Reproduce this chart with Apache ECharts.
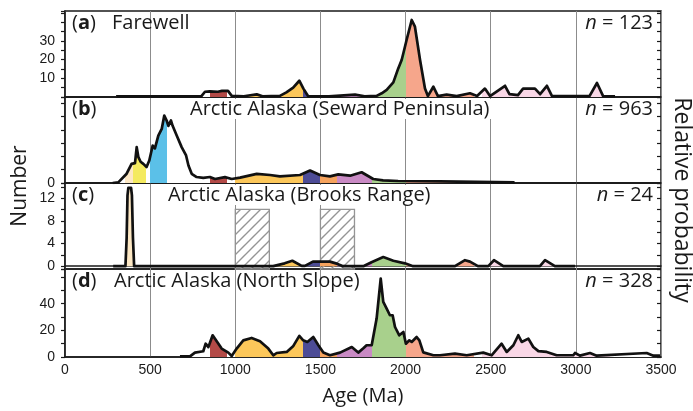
<!DOCTYPE html>
<html>
<head>
<meta charset="utf-8">
<script src="https://cdn.jsdelivr.net/npm/echarts@6/dist/echarts.min.js"></script>
<style>
  html, body { margin: 0; background: #fff; }
  #chart { width: 693px; height: 411px; }
</style>
</head>
<body>
<div id="chart"></div>
<script>
// panel text
const panelLetters = ['a', 'b', 'c', 'd']
const panelNames = ['Farewell', 'Arctic Alaska (Seward Peninsula)', 'Arctic Alaska (Brooks Range)', 'Arctic Alaska (North Slope)']
const sampleCounts = [123, 963, 24, 328]

// age axis (Ma)
const ageMin = 0
const ageMax = 3500
const ageStep = 500

// y tick labels that are printed, per panel
const yLabelsA = [10, 20, 30]
const yLabelsB = [0]
const yLabelsC = [0, 4, 8, 12]
const yLabelsD = [0, 20, 40]

// [age, number]
const farewell = [
  [300, 0.3], [800, 0.3], [822, 2.8], [850, 3], [898, 2.8], [922, 3.3], [957, 3.3], [979, 0.6],
  [1050, 0.4], [1126, 1.4], [1160, 0.4], [1262, 0.6], [1300, 2.5], [1340, 5], [1376, 8.7], [1400, 4.5],
  [1427, 0.5], [1550, 0.3], [1703, 1.3], [1760, 0.4], [1830, 0.6], [1860, 2], [1889, 3.8], [1928, 7.8],
  [1957, 15.3], [1977, 19.8], [1987, 23.4], [2006, 30.5], [2036, 41.2], [2055, 37.6], [2085, 19.8],
  [2114, 4.6], [2131, 0.5], [2163, 5.5], [2190, 0.5], [2241, 1.3], [2300, 0.5], [2378, 2], [2420, 0.5],
  [2466, 4.5], [2496, 0.5], [2584, 6], [2610, 1.5], [2660, 1], [2690, 4.5], [2760, 4.5], [2790, 1.5],
  [2830, 6], [2860, 0.5], [3080, 0.5], [3124, 7.5], [3160, 0.5], [3230, 0.3]
]
const seward = [
  [280, 0], [313, 0.05], [362, 0.7], [391, 1.44], [411, 1.5], [421, 2.7], [431, 1.94], [444, 1.6],
  [460, 1.44], [479, 1.2], [495, 1.69], [515, 2.82], [528, 2.6], [548, 3.57], [568, 4.07], [583, 5.07],
  [597, 4.7], [607, 4.3], [622, 4.7], [632, 4.3], [656, 3.57], [685, 2.7], [711, 2.07], [725, 1.32],
  [744, 0.69], [773, 0.45], [812, 0.38], [851, 0.45], [881, 0.3], [939, 0.44], [979, 0.3], [1028, 0.4],
  [1126, 0.69], [1204, 0.6], [1262, 0.5], [1380, 0.6], [1439, 0.94], [1497, 0.6], [1556, 0.5],
  [1605, 0.65], [1674, 0.55], [1742, 0.81], [1810, 0.3], [1868, 0.2], [1956, 0.15], [2200, 0.12], [2640, 0.05]
]
const brooks = [
  [283, 0], [355, 0], [362, 5], [367, 12.5], [372, 13.8], [388, 13.8], [393, 12.5], [399, 5], [406, 0],
  [440, 0], [1223, 0], [1290, 0.5], [1335, 0.95], [1390, 0.05], [1409, 0.05], [1456, 0.8], [1556, 0.8],
  [1600, 0.4], [1633, 0], [1752, 0], [1800, 0.7], [1869, 1.6], [1928, 0.95], [1996, 0.5], [2044, 0],
  [2290, 0], [2349, 1.05], [2378, 0.8], [2425, 0], [2486, 0], [2519, 1.05], [2574, 0], [2789, 0],
  [2819, 1.05], [2877, 0], [2995, 0]
]
const northSlope = [
  [675, 0.5], [734, 0.5], [763, 3.3], [812, 4.3], [826, 10], [842, 7.4], [867, 16.3], [891, 11.8],
  [920, 6.3], [959, 3.3], [979, 0.8], [1008, 6.3], [1047, 12.5], [1096, 14.3], [1145, 11.8], [1194, 6.3],
  [1223, 1.3], [1243, 3], [1302, 3.8], [1341, 8.3], [1376, 15.8], [1399, 12.5], [1423, 11.3], [1458, 15],
  [1488, 8.8], [1517, 3.3], [1556, 1.3], [1615, 3.3], [1684, 7.5], [1722, 3.3], [1752, 6.5], [1771, 8.8],
  [1801, 8.8], [1830, 28.8], [1854, 58.8], [1869, 41.3], [1889, 36.3], [1908, 31.3], [1924, 31.3],
  [1938, 22.5], [1963, 16.3], [1987, 18.8], [2002, 10], [2022, 12.5], [2036, 11.3], [2065, 15],
  [2081, 12.5], [2104, 3.5], [2163, 1.3], [2202, 1.3], [2290, 2.5], [2359, 1.3], [2456, 3.3], [2505, 1.3],
  [2564, 10], [2594, 3.8], [2633, 8.8], [2662, 16.3], [2682, 11.3], [2721, 13.8], [2750, 7.5], [2780, 4.4],
  [2829, 3.8], [2887, 1.3], [2985, 1.3], [2995, 3], [3024, 1], [3083, 3], [3122, 1], [3416, 3],
  [3455, 1], [3494, 1]
]

// hatched gaps in Brooks Range: [from, to, top]
const brooksGaps = [[1000, 1200, 10], [1500, 1700, 10]]

// age bands that get a fill colour
const ageBands = [
  [350, 400], [400, 475], [500, 600], [850, 950], [1000, 1400], [1400, 1500],
  [1500, 1600], [1600, 1800], [1800, 2000], [2000, 2400], [2450, 3200]
]
const bandColors = [
  '#fde8c4', '#f4ea5f', '#5bc0e8', '#b34a47', '#fcc75a', '#4d4c96',
  '#f6a35d', '#c98ac4', '#a8d08c', '#f6a68b', '#f9d7e6'
]

const seriesData = [farewell, seward, brooks, northSlope]
const yLabels = [yLabelsA, yLabelsB, yLabelsC, yLabelsD]
const yRanges = [
  { min: 0, max: 46, step: 5 },
  { min: 0, max: 6.47, step: 1 },
  { min: -0.5, max: 14.67, step: 2 },
  { min: 0, max: 66, step: 10 },
]
const gridTops = [11, 97, 183, 269]
const gridHeights = [86, 86, 86, 88]

const textFont = '"Open Sans", sans-serif'
const tickFont = '"Liberation Sans", Arial, sans-serif'
const ink = '#1a1a1a'

// hatch tile
const hatch = document.createElement('canvas')
hatch.width = 10
hatch.height = 10
const hctx = hatch.getContext('2d')
hctx.strokeStyle = '#959595'
hctx.lineWidth = 1.4
hctx.beginPath()
hctx.moveTo(0, 10); hctx.lineTo(10, 0)
hctx.moveTo(-2, 2); hctx.lineTo(2, -2)
hctx.moveTo(8, 12); hctx.lineTo(12, 8)
hctx.stroke()

const grids = gridTops.map((top, i) => ({
  left: 65, width: 596, top, height: gridHeights[i],
  show: true, borderColor: ink, borderWidth: 1.5,
}))

const xAxes = gridTops.map((_, i) => ({
  gridIndex: i, type: 'value', min: ageMin, max: ageMax, interval: ageStep,
  axisLine: { show: true, lineStyle: { color: ink, width: 1.5 } },
  axisTick: { show: false },
  axisLabel: {
    show: i === 3, margin: 6, fontFamily: tickFont, fontSize: 14, color: ink,
    formatter: (v) => String(v),
  },
  splitLine: { show: true, lineStyle: { color: '#8c8c8c', width: 1 } },
}))

// step is forced through min/maxInterval so ticks stay on multiples even when min is not
function yScale(r) {
  return {
    min: r.min, max: r.max,
    splitNumber: Math.round((r.max - r.min) / r.step),
    minInterval: r.step, maxInterval: r.step,
  }
}

const mainY = yRanges.map((r, i) => Object.assign({
  gridIndex: i, type: 'value',
  axisLine: { show: true, lineStyle: { color: ink, width: 1.5 } },
  axisTick: { show: true, length: 4, lineStyle: { color: ink, width: 1.2 } },
  axisLabel: {
    margin: 10, fontFamily: tickFont, fontSize: 14, color: ink,
    formatter: (v) => (yLabels[i].includes(v) ? String(v) : ''),
  },
  splitLine: { show: false },
}, yScale(r)))
// ticks on the inner side too
const innerY = yRanges.map((r, i) => Object.assign({
  gridIndex: i, type: 'value',
  axisLine: { show: false },
  axisTick: { show: true, inside: true, length: 4, lineStyle: { color: ink, width: 1.2 } },
  axisLabel: { show: false },
  splitLine: { show: false },
}, yScale(r)))

const lineSeries = seriesData.map((data, i) => ({
  type: 'line', xAxisIndex: i, yAxisIndex: i, data, z: 3,
  showSymbol: false, silent: true,
  lineStyle: { color: '#111', width: 2.7, join: 'round' },
  areaStyle: { opacity: 1 },
}))

const hatchSeries = {
  type: 'custom', xAxisIndex: 2, yAxisIndex: 2, z: 1, silent: true,
  data: brooksGaps,
  renderItem: (params, api) => {
    const p0 = api.coord([api.value(0), api.value(2)])
    const p1 = api.coord([api.value(1), yRanges[2].min])
    return {
      type: 'rect',
      shape: { x: p0[0], y: p0[1], width: p1[0] - p0[0], height: p1[1] - p0[1] },
      style: { fill: { image: hatch, repeat: 'repeat' }, stroke: '#959595', lineWidth: 1.3 },
    }
  },
}

const titleGraphics = []
panelLetters.forEach((letter, i) => {
  const cy = gridTops[i] + 16
  titleGraphics.push({
    type: 'text', left: 72, top: cy - 14, z: 100,
    style: {
      text: '({b|' + letter + '})',
      fontFamily: textFont, fontSize: 20, fill: ink,
      rich: { b: { fontFamily: textFont, fontSize: 20, fontWeight: 'bold', fill: ink } },
    },
  })
  titleGraphics.push({
    type: 'text', right: 693 - 653, top: cy - 14, z: 100,
    style: {
      text: '{i|n} = ' + sampleCounts[i],
      fontFamily: textFont, fontSize: 20, fill: ink,
      rich: { i: { fontFamily: textFont, fontSize: 20, fontStyle: 'italic', fill: ink } },
    },
  })
})
const nameLeft = [110, 188, 166, 112]
panelNames.forEach((name, i) => {
  const cy = gridTops[i] + 16
  titleGraphics.push({
    type: 'text', left: nameLeft[i], top: cy - 14, z: 100,
    style: {
      text: name, fontFamily: textFont, fontSize: 20, fill: ink,
      backgroundColor: i === 1 || i === 2 ? '#fff' : 'transparent',
      padding: [0, 2, 0, 2],
    },
  })
})

const chart = echarts.init(document.getElementById('chart'), null, { renderer: 'canvas' })
chart.setOption({
  animation: false,
  backgroundColor: '#fff',
  grid: grids,
  xAxis: xAxes,
  yAxis: mainY.concat(innerY),
  visualMap: {
    type: 'piecewise', show: false, dimension: 0, seriesIndex: [0, 1, 2, 3],
    pieces: ageBands.map((b, k) => ({ gte: b[0], lt: b[1], color: bandColors[k] })),
    outOfRange: { color: '#ffffff' },
  },
  series: lineSeries.concat([hatchSeries]),
  graphic: titleGraphics.concat([
    {
      type: 'text', x: 363, y: 396, z: 100,
      style: { text: 'Age (Ma)', fontFamily: textFont, fontSize: 20, fill: ink, align: 'center', verticalAlign: 'middle' },
    },
    {
      type: 'text', x: 20, y: 186, rotation: Math.PI / 2, z: 100,
      style: { text: 'Number', fontFamily: textFont, fontSize: 21, fill: ink, align: 'center', verticalAlign: 'middle' },
    },
    {
      type: 'text', x: 682, y: 200, rotation: -Math.PI / 2, z: 100,
      style: { text: 'Relative probability', fontFamily: textFont, fontSize: 23, fill: ink, align: 'center', verticalAlign: 'middle' },
    },
  ]),
})
</script>
</body>
</html>
